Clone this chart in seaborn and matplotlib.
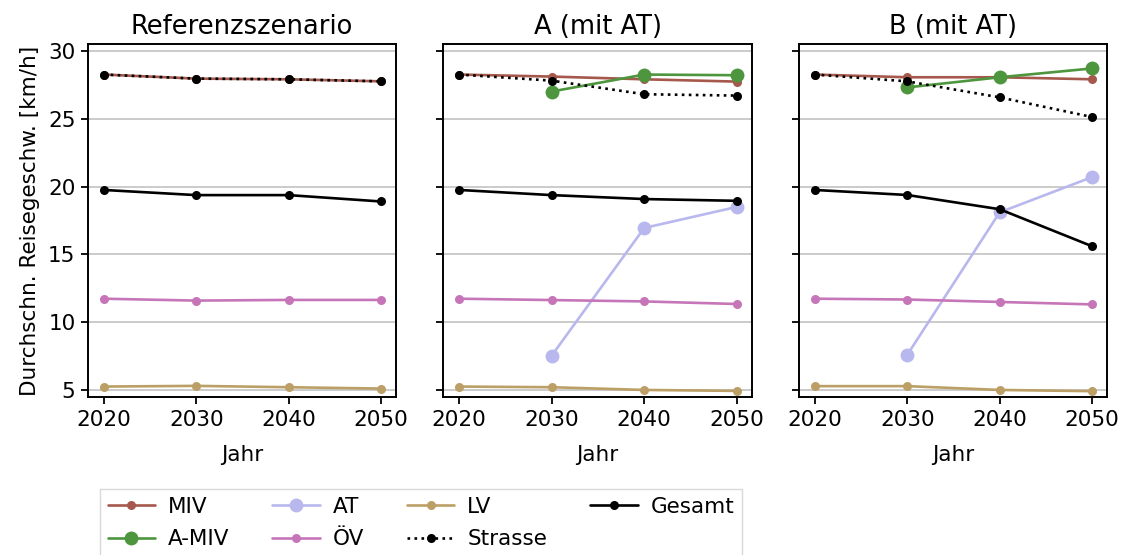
import numpy as np
import pandas as pd
import matplotlib
matplotlib.use("Agg")
import matplotlib.pyplot as plt
import seaborn as sns

years = [2020, 2030, 2040, 2050]
scenarios = ["Referenzszenario", "A (mit AT)", "B (mit AT)"]

# Durchschnittliche Reisegeschwindigkeit [km/h] je Szenario
miv = {
    "Referenzszenario": [28.25, 27.95, 27.9, 27.75],
    "A (mit AT)": [28.25, 28.1, 27.9, 27.73],
    "B (mit AT)": [28.25, 28.05, 28.05, 27.9],
}
a_miv = {
    "Referenzszenario": [np.nan, np.nan, np.nan, np.nan],
    "A (mit AT)": [np.nan, 27.0, 28.25, 28.2],
    "B (mit AT)": [np.nan, 27.3, 28.05, 28.7],
}
at = {
    "Referenzszenario": [np.nan, np.nan, np.nan, np.nan],
    "A (mit AT)": [np.nan, 7.55, 16.95, 18.5],
    "B (mit AT)": [np.nan, 7.6, 18.1, 20.7],
}
oev = {
    "Referenzszenario": [11.74, 11.6, 11.65, 11.65],
    "A (mit AT)": [11.74, 11.64, 11.54, 11.35],
    "B (mit AT)": [11.74, 11.68, 11.5, 11.32],
}
lv = {
    "Referenzszenario": [5.27, 5.32, 5.22, 5.12],
    "A (mit AT)": [5.27, 5.22, 5.02, 4.95],
    "B (mit AT)": [5.3, 5.3, 5.02, 4.93],
}
strasse = {
    "Referenzszenario": [28.25, 27.95, 27.9, 27.75],
    "A (mit AT)": [28.25, 27.8, 26.8, 26.7],
    "B (mit AT)": [28.25, 27.75, 26.57, 25.12],
}
gesamt = {
    "Referenzszenario": [19.75, 19.37, 19.37, 18.9],
    "A (mit AT)": [19.75, 19.37, 19.08, 18.95],
    "B (mit AT)": [19.75, 19.38, 18.33, 15.6],
}

series = [
    ("MIV", miv, "#a5584b", "-", 6.5),
    ("A-MIV", a_miv, "#4d963e", "-", 10),
    ("AT", at, "#b9b8ee", "-", 10),
    ("ÖV", oev, "#c676b8", "-", 6.5),
    ("LV", lv, "#bc9f66", "-", 6.5),
    ("Strasse", strasse, "black", ":", 6.5),
    ("Gesamt", gesamt, "black", "-", 6.5),
]

sns.set_style("ticks")
plt.rcParams["font.family"] = ["DejaVu Sans"]
plt.rcParams["axes.edgecolor"] = "black"
plt.rcParams["axes.linewidth"] = 1.4
for key in ["text.color", "axes.labelcolor", "xtick.color", "ytick.color"]:
    plt.rcParams[key] = "black"

FS = 15.5

fig, axes = plt.subplots(1, 3, figsize=(11.22, 5.55), dpi=100, sharey=True)
fig.subplots_adjust(left=88 / 1122, right=1107 / 1122, top=1 - 44 / 555,
                    bottom=1 - 397 / 555, wspace=0.154)

for ax, sc in zip(axes, scenarios):
    for name, vals, color, ls, ms in series:
        df = pd.DataFrame({"Jahr": years, "v": vals[sc]}).dropna()
        if df.empty:
            continue
        sns.lineplot(data=df, x="Jahr", y="v", ax=ax, color=color,
                     linestyle=ls, lw=1.9, marker="o", markersize=ms,
                     markeredgewidth=0, label=name, legend=False)
    ax.set_title(sc, fontsize=18.5, pad=7)
    ax.set_xlabel("Jahr", fontsize=FS, labelpad=11)
    ax.set_xticks(years)
    ax.set_yticks([5, 10, 15, 20, 25, 30])
    ax.set_ylim(4.5, 30.5)
    ax.set_xlim(2018.3, 2051.6)
    ax.yaxis.grid(True, color="#bdbdbd", lw=1.1)
    ax.set_axisbelow(True)
    ax.tick_params(labelsize=FS, length=5, width=1.3, color="black", pad=4)
    for sp in ax.spines.values():
        sp.set_visible(True)
        sp.set_color("black")
    ax.set_ylabel("")

axes[0].set_ylabel("Durchschn. Reisegeschw. [km/h]", fontsize=FS, labelpad=6)

handles, labels = axes[1].get_legend_handles_labels()
order = ["MIV", "A-MIV", "AT", "ÖV", "LV", "Strasse", "Gesamt"]
hmap = dict(zip(labels, handles))
fig.legend([hmap[k] for k in order], order, ncol=4, loc="upper left",
           bbox_to_anchor=(100 / 1122, 1 - 489 / 555), fontsize=FS,
           frameon=True, edgecolor="#d0d0d0", fancybox=False,
           handlelength=2.2, handletextpad=0.6, columnspacing=2.0,
           borderpad=0.35, labelspacing=0.6, borderaxespad=0)

fig.savefig("out.png", dpi=100)
